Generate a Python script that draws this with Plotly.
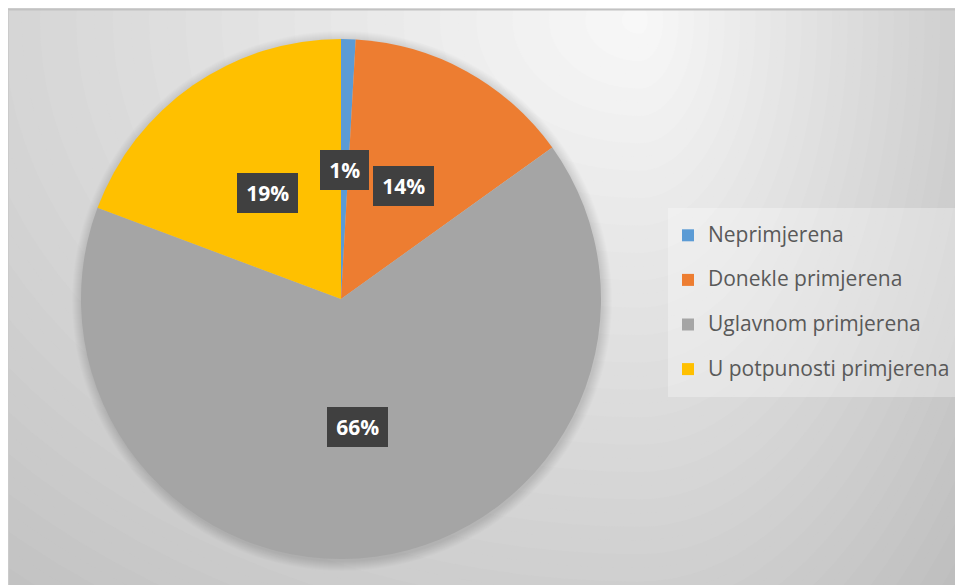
import math
import plotly.graph_objects as go

# ---- data ----
categories = ["Neprimjerena", "Donekle primjerena", "Uglavnom primjerena", "U potpunosti primjerena"]
values = [0.9, 14.2, 65.6, 19.3]
colors = ["#5B9BD5", "#ED7D31", "#A5A5A5", "#FFC000"]

# page body has an 8px margin; figure covers the rest of the 963x585 window
OFF = 8
W, H = 963 - OFF, 585 - OFF
# pie geometry (window pixels)
PIE_L, PIE_R, PIE_T, PIE_B = 81, 601, 39, 559
cx, cy = (PIE_L + PIE_R) / 2, (PIE_T + PIE_B) / 2
R = (PIE_B - PIE_T) / 2


def px(x):
    return (x - OFF) / W


def py(y):
    return 1 - (y - OFF) / H


shapes = []

# ---- background radial-ish gradient (styling) ----
gcx, gcy, top = 640, 20, 248
kl, kr, kv = 0.055, 0.13, 0.073
dmax = 60


def grey(v):
    v = int(round(max(0, min(255, v))))
    return f"rgb({v},{v},{v})"


shapes.append(dict(type="rect", xref="paper", yref="paper", x0=0, x1=1, y0=0, y1=1,
                   fillcolor=grey(top - dmax), line=dict(width=0), layer="below"))
for d in range(dmax - 1, 0, -1):
    pts = []
    n = 120
    for i in range(n + 1):
        t = 2 * math.pi * i / n
        c, s = math.cos(t), math.sin(t)
        a = d / (kr if c >= 0 else kl)
        b = d / kv
        pts.append((gcx + a * c, gcy + b * s))
    path = "M " + " L ".join(f"{px(x):.5f},{py(y):.5f}" for x, y in pts) + " Z"
    shapes.append(dict(type="path", xref="paper", yref="paper", path=path,
                       fillcolor=grey(top - d + 0.5), line=dict(width=0), layer="below"))

# frame edges
shapes.append(dict(type="line", xref="paper", yref="paper", x0=0, x1=1, y0=py(9.5), y1=py(9.5),
                   line=dict(color="#c2c2c2", width=2), layer="below"))
shapes.append(dict(type="line", xref="paper", yref="paper", x0=px(8.5), x1=px(8.5), y0=0, y1=py(10),
                   line=dict(color="#cbcbcb", width=1), layer="below"))

# soft shadow around pie
for k in range(1, 11):
    r = R + k
    shapes.append(dict(type="circle", xref="paper", yref="paper",
                       x0=px(cx - r + 1), x1=px(cx + r + 1), y0=py(cy + r + 2), y1=py(cy - r + 2),
                       fillcolor="rgba(0,0,0,0.012)", line=dict(width=0), layer="below"))

legend_labels = [f"<span style='font-size:21px;baseline-shift:6px'>{c}</span>" for c in categories]

fig = go.Figure(go.Pie(
    labels=legend_labels,
    values=values,
    marker=dict(colors=colors, line=dict(width=0)),
    sort=False,
    direction="clockwise",
    rotation=0,
    textinfo="none",
    hoverinfo="percent",
    domain=dict(x=[px(PIE_L), px(PIE_R)], y=[py(PIE_B), py(PIE_T)]),
))

# ---- data labels in dark boxes, placed at half radius on each slice's mid-angle ----
total = sum(values)
annotations = []
cum = 0.0
for v in values:
    mid = (cum + v / 2) / total * 2 * math.pi
    cum += v
    lx = cx + 0.496 * R * math.sin(mid)
    ly = cy - 0.496 * R * math.cos(mid)
    pct = f"{round(v / total * 100)}%"
    sp = "<span style='font-size:16px'>&nbsp;</span>"
    annotations.append(dict(xref="paper", yref="paper", x=px(lx), y=py(ly), text=sp + pct + sp,
                            xanchor="center", yanchor="middle", showarrow=False,
                            height=30, borderpad=5, borderwidth=0, bgcolor="#404040",
                            font=dict(family="Open Sans", size=21, color="white", weight="bold")))

fig.update_layout(
    width=W, height=H,
    margin=dict(l=0, r=0, t=0, b=0),
    paper_bgcolor="white",
    plot_bgcolor="white",
    shapes=shapes,
    annotations=annotations,
    showlegend=True,
    legend=dict(
        x=px(668), y=py(208), xanchor="left", yanchor="top",
        bgcolor="rgba(255,255,255,0.3)",
        borderwidth=0,
        font=dict(family="Open Sans", size=32, color="#595959"),
        itemclick=False, itemdoubleclick=False,
    ),
    font=dict(family="Open Sans"),
)

fig.write_html("out.html")
